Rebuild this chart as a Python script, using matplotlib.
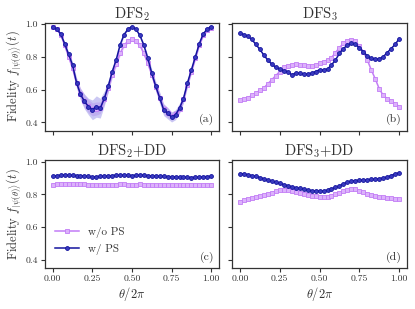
import numpy as np
import matplotlib
matplotlib.use("Agg")
import matplotlib.pyplot as plt

plt.rcParams['font.family'] = ['cmr10', 'DejaVu Serif']
plt.rcParams['mathtext.fontset'] = 'cm'
plt.rcParams['axes.formatter.use_mathtext'] = True

theta = np.linspace(0, 1, 41)

# Panel (a) DFS2
a_ps = [0.984, 0.968, 0.94, 0.88, 0.815, 0.75, 0.643, 0.572, 0.528, 0.497,
        0.477, 0.497, 0.487, 0.546, 0.62, 0.708, 0.78, 0.872, 0.935, 0.968,
        0.984, 0.968, 0.93, 0.87, 0.79, 0.70, 0.62, 0.55, 0.477, 0.457,
        0.433, 0.447, 0.487, 0.545, 0.64, 0.72, 0.80, 0.88, 0.94, 0.968, 0.984]
a_nops = [0.984, 0.966, 0.935, 0.87, 0.80, 0.73, 0.64, 0.575, 0.53, 0.50,
          0.48, 0.485, 0.49, 0.54, 0.61, 0.69, 0.755, 0.82, 0.87, 0.895,
          0.907, 0.895, 0.87, 0.82, 0.76, 0.69, 0.615, 0.55, 0.485, 0.46,
          0.44, 0.45, 0.485, 0.54, 0.63, 0.71, 0.79, 0.87, 0.93, 0.96, 0.975]
a_ps_err = [0.005, 0.006, 0.008, 0.01, 0.015, 0.02, 0.03, 0.035, 0.045, 0.05,
            0.06, 0.065, 0.06, 0.045, 0.035, 0.025, 0.018, 0.012, 0.008, 0.006,
            0.005, 0.006, 0.008, 0.012, 0.018, 0.025, 0.03, 0.035, 0.035, 0.035,
            0.03, 0.03, 0.03, 0.025, 0.02, 0.015, 0.012, 0.01, 0.008, 0.006, 0.005]
a_nops_err = [0.006, 0.008, 0.01, 0.012, 0.018, 0.022, 0.03, 0.035, 0.04, 0.04,
              0.04, 0.04, 0.035, 0.03, 0.025, 0.02, 0.018, 0.015, 0.012, 0.012,
              0.012, 0.012, 0.012, 0.015, 0.018, 0.02, 0.025, 0.03, 0.03, 0.03,
              0.025, 0.025, 0.025, 0.02, 0.018, 0.015, 0.012, 0.01, 0.008, 0.008, 0.008]

# Panel (b) DFS3
b_ps = [0.943, 0.935, 0.925, 0.905, 0.875, 0.845, 0.81, 0.78, 0.755, 0.735,
        0.725, 0.715, 0.71, 0.69, 0.70, 0.70, 0.695, 0.695, 0.70, 0.71,
        0.72, 0.72, 0.725, 0.75, 0.78, 0.82, 0.85, 0.87, 0.882, 0.875,
        0.855, 0.83, 0.805, 0.79, 0.785, 0.787, 0.80, 0.825, 0.85, 0.875, 0.91]
b_nops = [0.534, 0.54, 0.55, 0.565, 0.58, 0.595, 0.61, 0.635, 0.66, 0.685,
          0.71, 0.735, 0.745, 0.75, 0.757, 0.752, 0.748, 0.745, 0.742, 0.748,
          0.76, 0.77, 0.78, 0.795, 0.825, 0.855, 0.882, 0.895, 0.903, 0.893,
          0.865, 0.83, 0.78, 0.72, 0.665, 0.605, 0.565, 0.545, 0.53, 0.515, 0.497]

# Panel (c) DFS2+DD
c_ps = [0.91, 0.915, 0.917, 0.918, 0.917, 0.916, 0.915, 0.914, 0.913, 0.91,
        0.905, 0.908, 0.91, 0.912, 0.913, 0.915, 0.916, 0.917, 0.917, 0.916,
        0.915, 0.916, 0.917, 0.916, 0.915, 0.913, 0.912, 0.91, 0.91, 0.909,
        0.908, 0.907, 0.906, 0.905, 0.904, 0.903, 0.904, 0.906, 0.908, 0.909, 0.91]
c_nops = [0.86, 0.862, 0.865, 0.866, 0.866, 0.865, 0.864, 0.863, 0.862, 0.86,
          0.856, 0.855, 0.855, 0.856, 0.857, 0.858, 0.86, 0.861, 0.861, 0.86,
          0.859, 0.86, 0.861, 0.86, 0.859, 0.858, 0.857, 0.856, 0.856, 0.855,
          0.855, 0.856, 0.857, 0.856, 0.855, 0.856, 0.857, 0.858, 0.859, 0.86, 0.86]

# Panel (d) DFS3+DD
d_ps = [0.927, 0.925, 0.92, 0.915, 0.91, 0.903, 0.895, 0.888, 0.88, 0.873,
        0.867, 0.86, 0.853, 0.846, 0.84, 0.836, 0.832, 0.827, 0.822, 0.82,
        0.82, 0.82, 0.826, 0.834, 0.842, 0.852, 0.865, 0.874, 0.88, 0.884,
        0.886, 0.888, 0.889, 0.891, 0.893, 0.896, 0.9, 0.906, 0.915, 0.925, 0.932]
d_nops = [0.755, 0.765, 0.77, 0.777, 0.784, 0.79, 0.797, 0.805, 0.81, 0.818,
          0.824, 0.826, 0.824, 0.82, 0.815, 0.81, 0.805, 0.798, 0.792, 0.787,
          0.784, 0.782, 0.785, 0.792, 0.8, 0.81, 0.82, 0.828, 0.834, 0.83,
          0.822, 0.815, 0.805, 0.797, 0.79, 0.785, 0.782, 0.78, 0.778, 0.774, 0.77]

titles = ['DFS$_2$', 'DFS$_3$', 'DFS$_2$+DD', 'DFS$_3$+DD']
labels = ['(a)', '(b)', '(c)', '(d)']
xticks = [0.0, 0.25, 0.5, 0.75, 1.0]
xticklabels = ['0.00', '0.25', '0.50', '0.75', '1.00']
yticks = [0.4, 0.6, 0.8, 1.0]

PURPLE = '#c27cf6'
BLUE = '#14149e'
TXT = '#333333'
SPINE = '#333333'

fig = plt.figure(figsize=(4.15, 3.09), dpi=100)
positions = [
    [0.108, 0.577, 0.420, 0.350],
    [0.559, 0.577, 0.422, 0.350],
    [0.108, 0.133, 0.420, 0.348],
    [0.559, 0.133, 0.422, 0.348],
]
data_ps = [a_ps, b_ps, c_ps, d_ps]
data_nops = [a_nops, b_nops, c_nops, d_nops]

axes = []
for i, pos in enumerate(positions):
    ax = fig.add_axes(pos)
    axes.append(ax)
    if i == 0:
        ps = np.array(a_ps); nps = np.array(a_nops)
        ax.fill_between(theta, nps - np.array(a_nops_err), nps + np.array(a_nops_err),
                        color='#d7a6f5', alpha=0.5, lw=0)
        ax.fill_between(theta, ps - np.array(a_ps_err), ps + np.array(a_ps_err),
                        color='#8c86e6', alpha=0.45, lw=0)
    ax.plot(theta, data_nops[i], '-s', color=PURPLE, ms=2.6, lw=1.1,
            mfc='#dcb2fb', mec=PURPLE, mew=0.6, label='w/o PS', zorder=3)
    ax.plot(theta, data_ps[i], '-o', color=BLUE, ms=2.8, lw=1.1,
            mfc='#3a3ac0', mec=BLUE, mew=0.6, label='w/ PS', zorder=4)
    ax.set_xlim(-0.05, 1.05)
    ax.set_ylim(0.35, 1.008)
    ax.set_xticks(xticks)
    ax.set_yticks(yticks)
    ax.set_title(titles[i], fontsize=10.5, color=TXT, pad=3)
    ax.text(0.97, 0.05, labels[i], transform=ax.transAxes, ha='right', va='bottom',
            fontsize=8.5, color=TXT)
    for s in ax.spines.values():
        s.set_color(SPINE)
        s.set_linewidth(0.9)
    ax.tick_params(axis='both', direction='out', length=3, width=0.8, color=SPINE,
                   labelsize=7, labelcolor=TXT, pad=2)
    if i in (0, 2):
        ax.set_ylabel(r'Fidelity $f_{|\psi(\theta)\rangle}(t)$', fontsize=9, color=TXT, labelpad=2)
        ax.set_yticklabels(['0.4', '0.6', '0.8', '1.0'])
    else:
        ax.set_yticklabels([])
    if i in (2, 3):
        ax.set_xticklabels(xticklabels)
        ax.set_xlabel(r'$\theta/2\pi$', fontsize=9, color=TXT, labelpad=1)
    else:
        ax.set_xticklabels([])

leg = axes[2].legend(loc='lower left', bbox_to_anchor=(0.0, 0.03), frameon=False,
                     fontsize=8, handlelength=2.2, labelspacing=0.5)
for t in leg.get_texts():
    t.set_color(TXT)

fig.savefig('out.png', dpi=100)
